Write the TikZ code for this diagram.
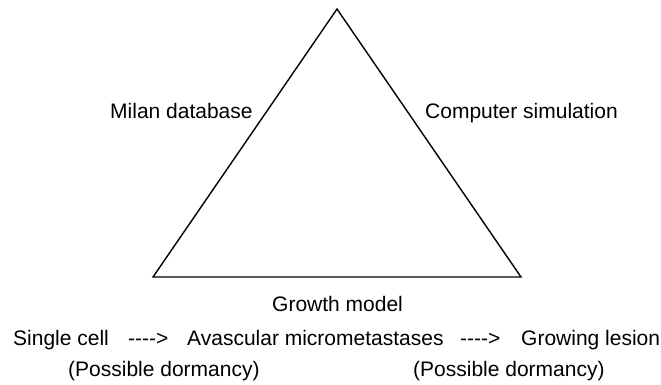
\documentclass[tikz,border=0pt]{standalone}
\usepackage{fontspec}
\setmainfont{Liberation Sans}
\usetikzlibrary{positioning}
\tikzset{txt/.style={font=\fontsize{21}{25}\selectfont, inner sep=0pt, anchor=base west},
side/.style={line width=1.4pt, line join=miter}
}

\begin{document}
\begin{tikzpicture}[x=1pt, y=-1pt]
        \useasboundingbox (0,0) rectangle (661,384);
        \coordinate (apex) at (337,9);
        \coordinate (bl)   at (153,277);
        \coordinate (br)   at (521,277);
        \draw[side] (apex) -- (bl) -- (br) -- cycle;

        \node[txt] (milan)  at (110,118) {Milan database};
        \node[txt] (sim)    at (425,118) {Computer simulation};
        \node[txt] (growth) at (272,311) {Growth model};

        \node[txt] (cell)   at (13,345)  {Single cell};
        \node[txt] (arr1)   at (128,345) {-{}-{}-{}-{}>};
        \node[txt] (avasc)  at (187,345) {Avascular micrometastases};
        \node[txt] (arr2)   at (460,345) {-{}-{}-{}-{}>};
        \node[txt] (lesion) at (521,345) {Growing lesion};

        \node[txt] (dorm1)  at (68,376)  {(Possible dormancy)};
        \node[txt] (dorm2)  at (413,376) {(Possible dormancy)};
      \end{tikzpicture}
\end{document}
